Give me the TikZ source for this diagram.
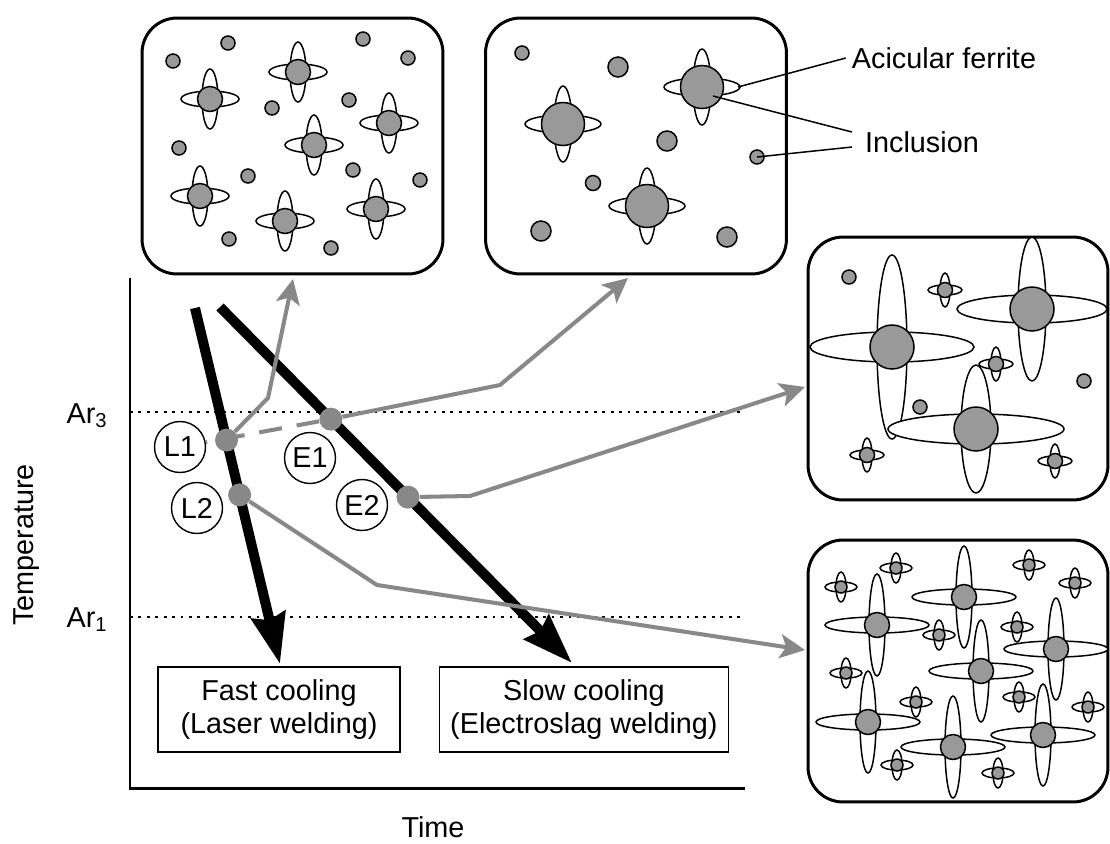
\documentclass[tikz,border=0pt]{standalone}
\usepackage{fontspec}
\setmainfont{Liberation Sans}
\usetikzlibrary{arrows.meta,positioning,calc}
\definecolor{InclusionGray}{RGB}{153,153,153}
\definecolor{TrackGray}{RGB}{136,136,136}
\tikzset{
  panel/.style={draw,line width=1.7pt,rounded corners=0.7cm,inner sep=0pt,
    minimum width=6.02cm,minimum height=5.12cm},
  process/.style={draw,line width=0.85pt,inner sep=0pt,align=center,
    minimum height=1.7cm},
  stage/.style={draw,circle,line width=0.8pt,minimum size=1.02cm,inner sep=0pt},
  spot/.style={circle,fill=TrackGray,minimum size=0.46cm,inner sep=0pt},
  cooling/.style={line width=5.7pt,-{Stealth[length=1cm,width=0.68cm,inset=0.1cm]}},
  track/.style={TrackGray,line width=2.3pt,
    -{Stealth[length=0.5cm,width=0.48cm,inset=0.12cm]}},
  level/.style={line width=1.6pt,dash pattern=on 1.6pt off 3.2pt},
  leader/.style={line width=0.85pt},
  incl/.style={draw,line width=0.85pt,fill=InclusionGray},
  petal/.style={draw,line width=0.85pt,fill=white}
}
% inclusion with ferrite plates: x, y, radius, half length across, half length up, half width
\newcommand{\grain}[6]{%
  \path[petal] (#1,#2) ellipse [x radius=#4, y radius=#6];
  \path[petal] (#1,#2) ellipse [x radius=#6, y radius=#5];
  \path[incl] (#1,#2) circle [radius=#3];}
\newcommand{\speck}[3]{\path[incl] (#1,#2) circle [radius=#3];}

\begin{document}
\begin{tikzpicture}[x=0.02cm,y=-0.02cm,font=\fontsize{16.4}{18.7}\selectfont]
\useasboundingbox (0,0) rectangle (1110,843);

% microstructures
\node[panel] (mL1) at (292.5,146) {};
\node[panel] (mE1) at (636,146) {};
\node[panel,minimum width=6cm,minimum height=5.26cm] (mE2) at (958,368.5) {};
\node[panel,minimum width=6cm,minimum height=5.24cm] (mL2) at (958,671) {};

\foreach \x/\y in {173/61,228/43,363/39,408/58,272/108,349/100,179/148,
    248/176,353/170,420/180,229/239,331/248}
  \speck{\x}{\y}{7};
\foreach \x/\y in {210/99,298/72,389/123,314/145,200/196,285/221,376/209}
  \grain{\x}{\y}{12.5}{29}{30}{8};

\foreach \x/\y/\r in {522/53/7,618/67/10,667/141/10,757/157/7,593/183/7.5,
    541/231/10,727/237/10}
  \speck{\x}{\y}{\r};
\foreach \x/\y in {702/87,563/124,647/206}
  \grain{\x}{\y}{21.5}{38}{38}{9};

\foreach \x/\y in {849/277,920/407,1084/381}
  \speck{\x}{\y}{7};
\grain{892}{347}{22}{82}{92}{15}
\grain{1032}{309}{22}{75}{72}{14}
\grain{976}{429}{22}{88}{64}{15}
\foreach \x/\y in {945/290,996/364,867/455,1055/461}
  \grain{\x}{\y}{7.5}{17}{17}{5};

\foreach \x/\y in {877/625,964/597,981/671,1056/649,868/722,953/747,1043/735}
  \grain{\x}{\y}{12.5}{52}{51}{8};
\foreach \x/\y in {896/568,841/587,1029/565,1075/583,939/635,1017/627,846/673,
    916/702,1019/697,1088/707,897/765,998/773}
  \grain{\x}{\y}{6}{16}{15}{5};

\node (af) at (944,58) {Acicular ferrite};
\node (inc) at (922,142) {Inclusion};
\draw[leader] (af.west) -- (738,87);
\draw[leader] ([shift={(-7,-10)}]inc.west) -- (713,96);
\draw[leader] ([shift={(-7,5)}]inc.west) -- (757,157);

% cooling diagram
\draw[line width=1.7pt] (130,278) |- (745,788);
\draw[level] (130,412) -- (745,412);
\draw[level] (130,617) -- (745,617);
\node[anchor=base] (ar3) at (87,423) {Ar\textsubscript{3}};
\node[anchor=base] (ar1) at (87,627) {Ar\textsubscript{1}};
\node[rotate=90,anchor=base] (temp) at (33,545) {Temperature};
\node[anchor=base] (time) at (433,837) {Time};

\coordinate (fastTop) at (195,308);
\coordinate (fastEnd) at (280,664);
\coordinate (slowTop) at (220,307);
\coordinate (slowEnd) at (572,663);
\draw[cooling] (fastTop) -- (fastEnd);
\draw[cooling] (slowTop) -- (slowEnd);

\node[process,minimum width=4.84cm] (fastBox) at (279,709.5)
  {Fast cooling\\(Laser welding)};
\node[process,minimum width=5.78cm,right=0.76cm of fastBox] (slowBox)
  {Slow cooling\\(Electroslag welding)};

\node[spot] (dL1) at ($(fastTop)!0.371!(fastEnd)$) {};
\node[spot] (dL2) at ($(fastTop)!0.525!(fastEnd)$) {};
\node[spot] (dE1) at ($(slowTop)!0.315!(slowEnd)$) {};
\node[spot] (dE2) at ($(slowTop)!0.534!(slowEnd)$) {};

\node[stage] (lL1) at (180,447) {L1};
\node[stage] (lE1) at (310,458) {E1};
\node[stage] (lL2) at (197,508) {L2};
\node[stage] (lE2) at (362,505) {E2};

\coordinate (bL1) at (268,398);
\coordinate (bE1) at (500,385);
\coordinate (bE2) at (470,496);
\coordinate (bL2) at (377,585);
\coordinate (tipL1) at (293,279);
\coordinate (tipE1) at (628,278);
\coordinate (tipE2) at (805,387);
\coordinate (tipL2) at (805,650);

\draw[track] (dL1) -- (bL1) -- (tipL1);
\draw[track] (dE1) -- (bE1) -- (tipE1);
\draw[track] (dE2) -- (bE2) -- (tipE2);
\draw[track] (dL2) -- (bL2) -- (tipL2);
\draw[TrackGray,line width=2.3pt,dash pattern=on 0.46cm off 0.3cm] (dE1) -- (lL1);

\end{tikzpicture}
\end{document}
